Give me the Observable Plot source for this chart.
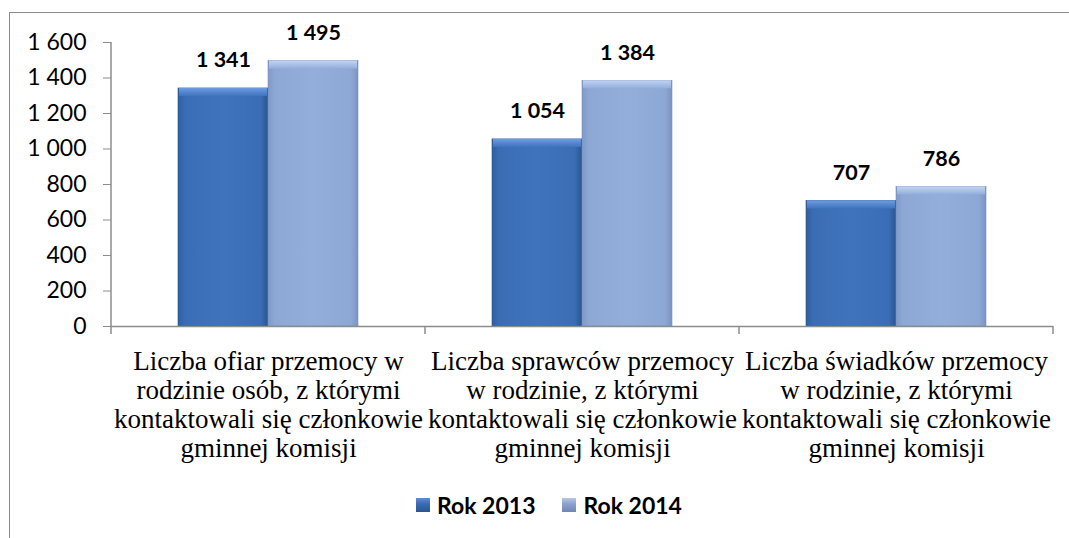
<!DOCTYPE html>
<html>
<head>
<meta charset="utf-8">
<script src="https://cdn.jsdelivr.net/npm/d3@7"></script>
<script src="https://cdn.jsdelivr.net/npm/@observablehq/plot@0.6"></script>
<style>
  html, body { margin: 0; padding: 0; background: #fff; overflow: hidden; width: 1069px; height: 538px; }
  #frame { position: absolute; left: 9px; top: 12px; width: 2000px; height: 2000px;
           border-left: 1px solid #8a8a8a; border-top: 1px solid #8a8a8a; z-index: 0; }
  #chart { position: relative; z-index: 1; }
  #legend { position: relative; z-index: 1; display: flex; align-items: center; margin-top: 13px;
            padding-left: 416px; font-family: Lato, "Liberation Sans", sans-serif; font-weight: bold;
            font-size: 23px; line-height: 24px; color: #000; }
  .sw { width: 14px; height: 14px; margin-right: 7px; box-sizing: border-box; }
  .item { display: flex; align-items: center; margin-right: 27px; }
</style>
</head>
<body>
<div id="frame"></div>
<div id="chart"></div>
<div id="legend"></div>
<script>
const categories = [
  "Liczba ofiar przemocy w\nrodzinie osób, z którymi\nkontaktowali się członkowie\ngminnej komisji",
  "Liczba sprawców przemocy\nw rodzinie, z którymi\nkontaktowali się członkowie\ngminnej komisji",
  "Liczba świadków przemocy\nw rodzinie, z którymi\nkontaktowali się członkowie\ngminnej komisji"
];
const years = ["Rok 2013", "Rok 2014"];
const values2013 = [1341, 1054, 707];
const values2014 = [1495, 1384, 786];
const yTicks = [0, 200, 400, 600, 800, 1000, 1200, 1400, 1600];

const data = categories.flatMap((c, i) => [
  {category: c, year: years[0], value: values2013[i]},
  {category: c, year: years[1], value: values2014[i]}
]);
const fmt = d3.formatLocale({decimal: ",", thousands: "\u00a0", grouping: [3], currency: ["", ""]}).format(",");

const svgEl = Plot.plot({
  width: 1069, height: 480,
  marginLeft: 111, marginRight: 16, marginTop: 42, marginBottom: 154,
  style: {background: "transparent", overflow: "visible"},
  fx: {domain: categories, padding: 0, axis: null, label: null},
  x: {domain: years, paddingInner: 0, paddingOuter: 0.744, axis: null, label: null},
  y: {domain: [0, 1600], axis: null, label: null},
  marks: [
    Plot.barY(data.filter(d => d.year === years[0]), {fx: "category", x: "year", y: "value", fill: "url(#g13)", stroke: "#2a5590", strokeWidth: 0.6}),
    Plot.barY(data.filter(d => d.year === years[1]), {fx: "category", x: "year", y: "value", fill: "url(#g14)", stroke: "#7890bd", strokeWidth: 0.6}),
    Plot.barY(data.filter(d => d.year === years[0]), {fx: "category", x: "year", y1: "value", y2: "value", insetBottom: -8, insetLeft: 1, insetRight: 1, fill: "url(#t13)"}),
    Plot.barY(data.filter(d => d.year === years[1]), {fx: "category", x: "year", y1: "value", y2: "value", insetBottom: -8, insetLeft: 1, insetRight: 1, fill: "url(#t14)"}),
    Plot.ruleY([0], {stroke: "#8c8c8c", strokeWidth: 1.5}),
    Plot.text(data, {fx: "category", x: "year", y: "value", text: d => fmt(d.value), lineAnchor: "bottom", dy: -21,
      fontWeight: "bold", fontSize: 21.5, fontFamily: "Lato, 'Liberation Sans', sans-serif", fill: "#000"}),
    Plot.axisY(yTicks, {tickSize: 8, tickPadding: 17, tickFormat: fmt, fontSize: 23,
      fontFamily: "Lato, 'Liberation Sans', sans-serif", stroke: "#8c8c8c", fill: "#000", label: null}),
    Plot.axisFx({anchor: "bottom", tickSize: 0, tickPadding: 23, fontSize: 27, lineHeight: 1.07,
      fontFamily: "'Liberation Serif', 'Times New Roman', serif", fill: "#000", label: null, textOverflow: null})
  ]
});

// gradients
const ns = "http://www.w3.org/2000/svg";
const defs = document.createElementNS(ns, "defs");
defs.innerHTML = `
  <linearGradient id="g13" x1="0" x2="1" y1="0" y2="0">
    <stop offset="0" stop-color="#2f5f9f"/><stop offset="0.08" stop-color="#3a6db4"/>
    <stop offset="0.5" stop-color="#3f74bd"/><stop offset="0.92" stop-color="#3a6db4"/>
    <stop offset="1" stop-color="#2a5590"/></linearGradient>
  <linearGradient id="g14" x1="0" x2="1" y1="0" y2="0">
    <stop offset="0" stop-color="#8099c7"/><stop offset="0.08" stop-color="#8ea8d6"/>
    <stop offset="0.5" stop-color="#94aedb"/><stop offset="0.92" stop-color="#8ea8d6"/>
    <stop offset="1" stop-color="#7b93bf"/></linearGradient>
  <linearGradient id="t13" x1="0" x2="0" y1="0" y2="1">
    <stop offset="0" stop-color="#6d9be0"/><stop offset="1" stop-color="#3f74bd"/></linearGradient>
  <linearGradient id="t14" x1="0" x2="0" y1="0" y2="1">
    <stop offset="0" stop-color="#c0d3f2"/><stop offset="1" stop-color="#94aedb"/></linearGradient>`;
svgEl.insertBefore(defs, svgEl.firstChild);

// y axis line and category boundary ticks (from the plot's own scales)
const fxS = svgEl.scale("fx"), yS = svgEl.scale("y");
const g = d3.select(svgEl).append("g").attr("stroke", "#8c8c8c").attr("stroke-width", 1.5);
const x0 = fxS.apply(categories[0]);
g.append("line").attr("x1", x0).attr("x2", x0).attr("y1", yS.apply(0)).attr("y2", yS.apply(1600));
const bounds = categories.map(c => fxS.apply(c)).concat([fxS.apply(categories[categories.length - 1]) + fxS.bandwidth]);
bounds.forEach(b => g.append("line").attr("x1", b).attr("x2", b).attr("y1", yS.apply(0)).attr("y2", yS.apply(0) + 8));

document.getElementById("chart").appendChild(svgEl);

// legend
const swatchBg = ["linear-gradient(#5e8ed6, #3a6db4 40%, #2a5590)", "linear-gradient(#b6c8e8, #8ea3cf 40%, #6f86b3)"];
const leg = document.getElementById("legend");
years.forEach((y, i) => {
  const it = document.createElement("div"); it.className = "item";
  const sw = document.createElement("div"); sw.className = "sw"; sw.style.background = swatchBg[i];
  const tx = document.createElement("span"); tx.textContent = y;
  it.appendChild(sw); it.appendChild(tx); leg.appendChild(it);
});
</script>
</body>
</html>
